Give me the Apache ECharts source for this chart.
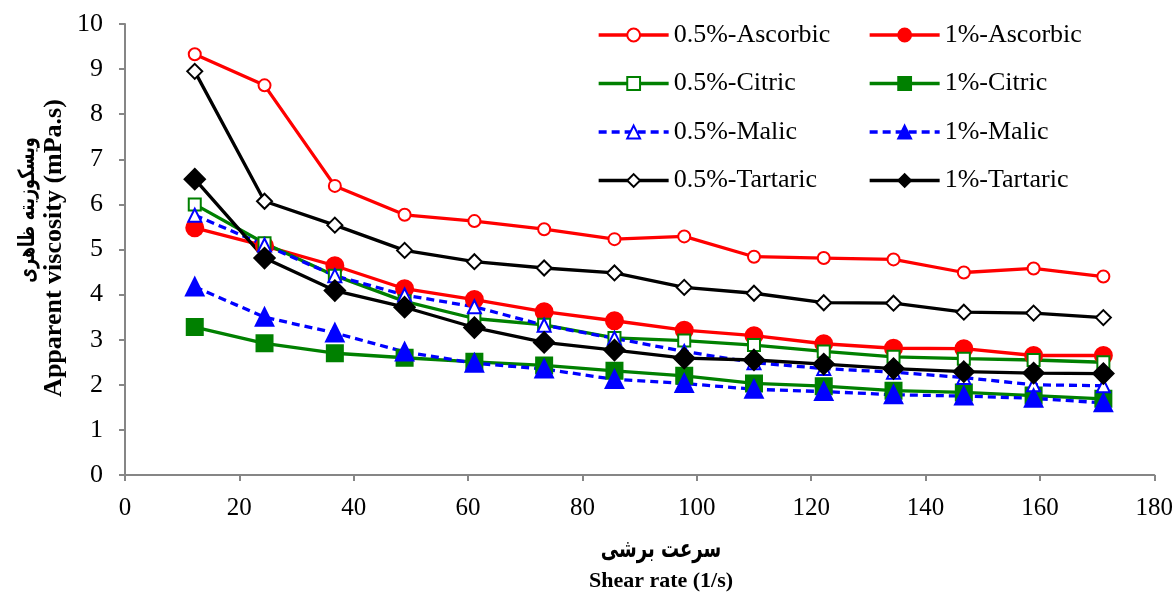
<!DOCTYPE html>
<html>
<head>
<meta charset="utf-8">
<script src="https://cdn.jsdelivr.net/npm/echarts@6/dist/echarts.min.js"></script>
<style>
  html, body { margin: 0; padding: 0; background: #fff; }
  #chart { width: 1176px; height: 596px; }
</style>
</head>
<body>
<div id="chart"></div>
<script>
// shear rate (1/s)
const shearRate = [12.2, 24.4, 36.7, 48.9, 61.1, 73.3, 85.6, 97.8, 110.0, 122.2, 134.4, 146.7, 158.9, 171.1]

// apparent viscosity (mPa.s)
const ascorbic05 = [9.33, 8.64, 6.41, 5.77, 5.63, 5.45, 5.23, 5.29, 4.84, 4.81, 4.78, 4.49, 4.58, 4.40]
const ascorbic1 = [5.48, 5.08, 4.64, 4.13, 3.89, 3.62, 3.42, 3.21, 3.09, 2.91, 2.81, 2.80, 2.65, 2.65]
const citric05 = [6.00, 5.14, 4.42, 3.85, 3.47, 3.33, 3.04, 2.98, 2.88, 2.74, 2.62, 2.58, 2.55, 2.50]
const citric1 = [3.28, 2.92, 2.70, 2.60, 2.51, 2.43, 2.31, 2.20, 2.03, 1.97, 1.87, 1.83, 1.76, 1.69]
const malic05 = [5.76, 5.10, 4.42, 3.99, 3.73, 3.32, 3.03, 2.74, 2.49, 2.36, 2.28, 2.16, 2.00, 1.98]
const malic1 = [4.17, 3.50, 3.15, 2.73, 2.48, 2.35, 2.12, 2.03, 1.90, 1.85, 1.78, 1.75, 1.70, 1.60]
const tartaric05 = [8.95, 6.07, 5.54, 4.98, 4.73, 4.59, 4.48, 4.16, 4.03, 3.82, 3.81, 3.61, 3.59, 3.49]
const tartaric1 = [6.56, 4.81, 4.09, 3.72, 3.27, 2.94, 2.77, 2.59, 2.55, 2.46, 2.36, 2.29, 2.26, 2.25]

const xTicks = [0, 20, 40, 60, 80, 100, 120, 140, 160, 180]
const yTicks = [0, 1, 2, 3, 4, 5, 6, 7, 8, 9, 10]

const RED = "#ff0000"
const GREEN = "#008000"
const BLUE = "#0000ff"
const BLACK = "#000000"
const SERIF = "'Liberation Serif', 'Times New Roman', serif"

function makeSeries(name, values, color, symbol, size, dashed) {
  return {
    name: name,
    type: "line",
    data: values.map((v, i) => [shearRate[i], v]),
    symbol: symbol,
    symbolSize: size,
    showSymbol: true,
    animation: false,
    lineStyle: { color: color, width: 3.3, type: dashed ? [8, 5] : "solid" },
    itemStyle: { color: color, borderColor: color, borderWidth: 3 },
    emphasis: { disabled: true }
  }
}

const series = [
  makeSeries("0.5%-Ascorbic", ascorbic05, RED, "emptyCircle", 12, false),
  makeSeries("1%-Ascorbic", ascorbic1, RED, "circle", 16, false),
  makeSeries("0.5%-Citric", citric05, GREEN, "emptyRect", 12, false),
  makeSeries("1%-Citric", citric1, GREEN, "rect", 15, false),
  makeSeries("0.5%-Malic", malic05, BLUE, "emptyTriangle", 13, true),
  makeSeries("1%-Malic", malic1, BLUE, "triangle", 16, true),
  makeSeries("0.5%-Tartaric", tartaric05, BLACK, "emptyDiamond", 15, false),
  makeSeries("1%-Tartaric", tartaric1, BLACK, "diamond", 19, false)
]

const legendBase = {
  orient: "vertical",
  top: 17,
  itemWidth: 70,
  itemHeight: 16,
  itemGap: 22.5,
  itemTextGap: 5,
  selectedMode: false,
  lineStyle: { width: 3.3 },
  textStyle: { fontFamily: SERIF, fontSize: 26, color: "#000", lineHeight: 26 }
}

const axisCommon = {
  axisLine: { show: true, lineStyle: { color: "#868686", width: 2 } },
  axisTick: { show: true, inside: false, length: 6, lineStyle: { color: "#868686", width: 2 } },
  splitLine: { show: false },
  axisLabel: { fontFamily: SERIF, fontSize: 25, color: "#000" }
}

const chart = echarts.init(document.getElementById("chart"), null, { renderer: "canvas" })
chart.setOption({
  backgroundColor: "#fff",
  animation: false,
  grid: { left: 125, right: 21, top: 24, bottom: 121, containLabel: false },
  xAxis: Object.assign({}, axisCommon, {
    type: "value",
    min: xTicks[0],
    max: xTicks[xTicks.length - 1],
    interval: xTicks[1] - xTicks[0],
    axisLabel: Object.assign({}, axisCommon.axisLabel, { margin: 21 })
  }),
  yAxis: Object.assign({}, axisCommon, {
    type: "value",
    min: yTicks[0],
    max: yTicks[yTicks.length - 1],
    interval: yTicks[1] - yTicks[0],
    axisLabel: Object.assign({}, axisCommon.axisLabel, { fontSize: 26, margin: 22 })
  }),
  legend: [
    Object.assign({}, legendBase, { left: 592, data: ["0.5%-Ascorbic", "0.5%-Citric", "0.5%-Malic", "0.5%-Tartaric"] }),
    Object.assign({}, legendBase, { left: 863, data: ["1%-Ascorbic", "1%-Citric", "1%-Malic", "1%-Tartaric"] })
  ],
  graphic: [
    {
      type: "text", x: 661, y: 550, scaleY: 1.4,
      style: { text: "سرعت برشی", font: "bold 18px 'DejaVu Sans'", fill: "#000", textAlign: "center", textVerticalAlign: "middle" }
    },
    {
      type: "text", x: 661, y: 581,
      style: { text: "Shear rate (1/s)", font: "bold 22px " + SERIF, fill: "#000", textAlign: "center", textVerticalAlign: "middle" }
    },
    {
      type: "text", x: 28, y: 210, rotation: Math.PI / 2, scaleY: 1.4,
      style: { text: "ویسکوزیته ظاهری", font: "bold 16px 'DejaVu Sans'", fill: "#000", textAlign: "center", textVerticalAlign: "middle" }
    },
    {
      type: "text", x: 54, y: 248, rotation: Math.PI / 2,
      style: { text: "Apparent viscosity (mPa.s)", font: "bold 26px " + SERIF, fill: "#000", textAlign: "center", textVerticalAlign: "middle" }
    }
  ],
  series: series
})
</script>
</body>
</html>
